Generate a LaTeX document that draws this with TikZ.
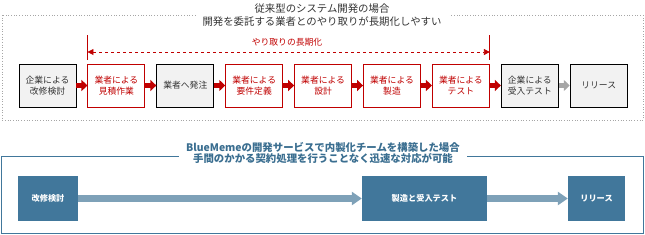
\documentclass[tikz,border=0pt]{standalone}
\usepackage{fontspec}
\setmainfont{Noto Sans CJK JP}
\usepackage{xcolor}
\usetikzlibrary{arrows.meta, positioning}

\definecolor{vred}{HTML}{C00000}
\definecolor{boxgray}{HTML}{F2F2F2}
\definecolor{txtgray}{HTML}{333333}
\definecolor{bmblue}{HTML}{41779B}
\definecolor{bmtitle}{HTML}{3A6E90}
\definecolor{bmarrow}{HTML}{7EA1B8}

\begin{document}
\begin{tikzpicture}[
        x=1pt, y=-1pt,
        node distance=0 and 11pt,
        every node/.style={font=\fontsize{8.8}{10.6}\selectfont, inner sep=0pt},
        gbox/.style={draw=black, line width=0.9pt, fill=boxgray, text=txtgray, minimum width=57pt, minimum height=43pt, align=center},
        rbox/.style={draw=vred, line width=0.9pt, fill=white, text=vred, minimum width=57pt, minimum height=43pt, align=center},
        bbox/.style={fill=bmblue, text=white, font=\fontsize{8.2}{10}\selectfont\bfseries, minimum height=45pt, align=center},
        flow/.style={-{Triangle[length=6pt, width=11pt]}, line width=4.5pt, vred},
        gflow/.style={-{Triangle[length=6pt, width=11pt]}, line width=4.5pt, black!35},
        bflow/.style={-{Triangle[length=10pt, width=13pt]}, line width=7pt, bmarrow},
        ttl/.style={fill=white, inner xsep=7pt, inner ysep=1pt, align=center, font=\fontsize{10.4}{12.6}\selectfont}
    ]
        \useasboundingbox (0,0) rectangle (645,234);

        % conventional development
        \draw[gray!70, dotted, line width=0.7pt] (2,15) rectangle (643,120);
        \node[ttl, text=txtgray] (toptitle) at (322,15) {従来型のシステム開発の場合\\開発を委託する業者とのやり取りが長期化しやすい};

        \node[gbox] (kento) at (47.5,85.5) {企業による\\改修検討};
        \node[rbox, right=of kento] (mitsumori) {業者による\\見積作業};
        \node[gbox, right=of mitsumori] (hatchu) {業者へ発注};
        \node[rbox, right=of hatchu] (yoken) {業者による\\要件定義};
        \node[rbox, right=of yoken] (sekkei) {業者による\\設計};
        \node[rbox, right=of sekkei] (seizo) {業者による\\製造};
        \node[rbox, right=of seizo] (test) {業者による\\テスト};
        \node[gbox, right=of test] (uketest) {企業による\\受入テスト};
        \node[gbox, right=of uketest] (release) {リリース};

        \draw[flow] (kento) -- (mitsumori);
        \draw[flow] (mitsumori) -- (hatchu);
        \draw[flow] (hatchu) -- (yoken);
        \draw[flow] (yoken) -- (sekkei);
        \draw[flow] (sekkei) -- (seizo);
        \draw[flow] (seizo) -- (test);
        \draw[flow] (test) -- (uketest);
        \draw[gflow] (uketest) -- (release);

        % long exchange span
        \coordinate (spanl) at (mitsumori.west |- 0,35);
        \coordinate (spanr) at (test.east |- 0,35);
        \coordinate (dashl) at (mitsumori.west |- 0,52);
        \coordinate (dashr) at (test.east |- 0,52);
        \draw[vred, line width=0.8pt] (spanl) -- ++(0,25);
        \draw[vred, line width=0.8pt] (spanr) -- ++(0,25);
        \draw[vred, dashed, line width=0.8pt, {Triangle[length=6pt, width=6pt]}-{Triangle[length=6pt, width=6pt]}]
            (dashl) -- (dashr);
        \node[text=vred] (spanlabel) at (287,42) {やり取りの長期化};

        % in-house team
        \draw[bmblue, line width=1pt] (1,156) rectangle (643,233);
        \node[ttl, text=bmtitle, font=\fontsize{10.4}{11.8}\selectfont\bfseries] (bottitle) at (323,153) {BlueMemeの開発サービスで内製化チームを構築した場合\\手間のかかる契約処理を行うことなく迅速な対応が可能};

        \node[bbox, minimum width=60pt] (bkento) at (48,198.5) {改修検討};
        \node[bbox, minimum width=125pt] (bseizo) at (424.5,198.5) {製造と受入テスト};
        \node[bbox, minimum width=57pt] (brelease) at (596.5,198.5) {リリース};

        \draw[bflow] (bkento) -- (bseizo);
        \draw[bflow] (bseizo) -- (brelease);
    \end{tikzpicture}
\end{document}
